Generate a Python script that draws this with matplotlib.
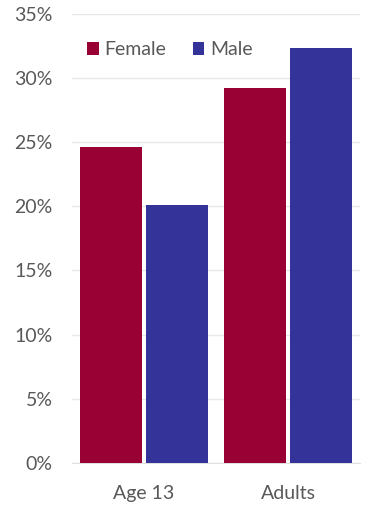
import matplotlib
matplotlib.use('Agg')
import matplotlib.pyplot as plt
import numpy as np
from matplotlib.ticker import PercentFormatter

# data
categories = ['Age 13', 'Adults']
female = [0.246, 0.292]
male = [0.201, 0.323]
yticks = [0, 0.05, 0.10, 0.15, 0.20, 0.25, 0.30, 0.35]

female_color = '#990033'
male_color = '#333399'
text_color = '#595959'

plt.rcParams['font.family'] = ['Lato', 'DejaVu Sans']

fig = plt.figure(figsize=(3.69, 5.11), dpi=100)
ax = fig.add_axes([0.195, 0.094, 0.781, 0.879])

x = np.arange(len(categories))
w = 0.43
ax.bar(x - 0.229, female, width=w, color=female_color, label='Female', zorder=3)
ax.bar(x + 0.229, male, width=w, color=male_color, label='Male', zorder=3)

ax.set_xlim(-0.5, 1.5)
ax.set_ylim(0, 0.35)
ax.set_yticks(yticks)
ax.yaxis.set_major_formatter(PercentFormatter(1.0, decimals=0))
ax.set_xticks(x)
ax.set_xticklabels(categories)

ax.grid(axis='y', color='#e8e8e8', linewidth=1, zorder=0)
for s in ['top', 'right', 'left']:
    ax.spines[s].set_visible(False)
ax.spines['bottom'].set_color('#e0e0e0')
ax.tick_params(axis='both', length=0, labelsize=14, colors=text_color)
ax.tick_params(axis='y', pad=14)
ax.tick_params(axis='x', pad=16)

leg = ax.legend(loc='center left', bbox_to_anchor=(0.025, 0.92), ncol=2, frameon=False,
                fontsize=14, handlelength=0.6, handleheight=0.6, handletextpad=0.3,
                columnspacing=1.35, borderaxespad=0)
for t in leg.get_texts():
    t.set_color(text_color)

fig.savefig('out.png', dpi=100)
